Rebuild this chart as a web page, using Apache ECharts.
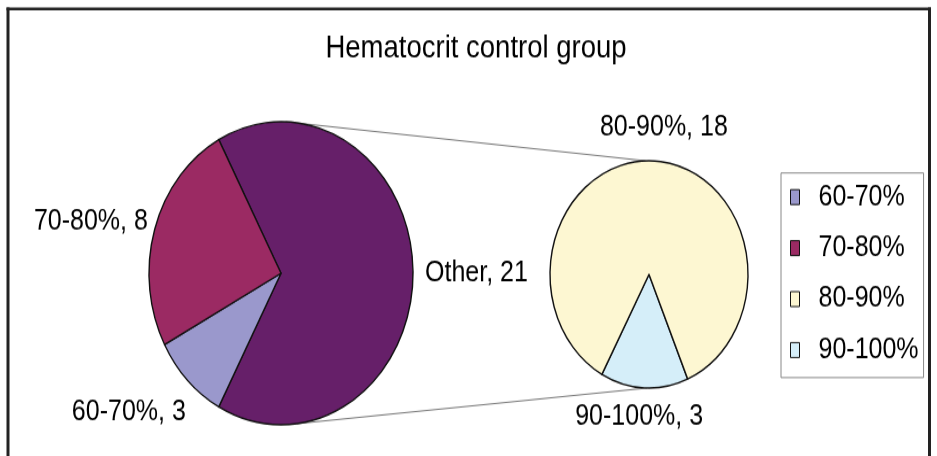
<!DOCTYPE html>
<html>
<head>
<meta charset="utf-8">
<script src="https://cdn.jsdelivr.net/npm/echarts@6/dist/echarts.min.js"></script>
<style>
  html, body { margin: 0; padding: 0; background: #fff; }
  #wrap { width: 937px; height: 456px; overflow: hidden; }
  /* the picture is stretched vertically, so draw flat and stretch the canvas */
  #main { width: 937px; height: 397px; transform: scaleY(1.148); transform-origin: 0 0; }
</style>
</head>
<body>
<div id="wrap"><div id="main"></div></div>
<script>
/* data */
var mainNames  = ['60-70%', '70-80%'];
var mainValues = [3, 8];
var otherName  = 'Other';
var splitNames  = ['80-90%', '90-100%'];
var splitValues = [18, 3];
var legendNames = ['60-70%', '70-80%', '80-90%', '90-100%'];

var colors = {
	'60-70%': '#9a98cc',
	'70-80%': '#9b2a63',
	'Other': '#661f69',
	'80-90%': '#fdf7d2',
	'90-100%': '#d5eef9'
};

/* geometry (flat coords, before the stretch) */
var leftC = [281, 238], leftR = 132;
var rightC = [649, 239], rightR = 99;
var fontFam = "'Liberation Sans', Arial, Helvetica, sans-serif";

var otherValue = splitValues.reduce(function(a, b){ return a + b; }, 0);
var mainTotal = otherValue + mainValues.reduce(function(a, b){ return a + b; }, 0);

/* label nudges, by name */
var nudge = {
	'Other':   { dx: 0, dy: 0 },
	'70-80%':  { dx: 5, dy: -5 },
	'60-70%':  { dx: 9, dy: 25 },
	'80-90%':  { dx: 2, dy: -25, align: 'center' },
	'90-100%': { dx: 3, dy: 21, align: 'center' }
};

function makeItem(name, value){
	return { name: name, value: value, itemStyle: { color: colors[name] } };
}

var leftData = [makeItem(otherName, otherValue)];
mainNames.forEach(function(n, i){ leftData.push(makeItem(n, mainValues[i])); });

// small slice sits at the bottom of the second pie
var rightData = [makeItem(splitNames[1], splitValues[1]), makeItem(splitNames[0], splitValues[0])];

// Other is centred on the right
var leftStart = otherValue / mainTotal * 180;
var rightStart = -67;

function layoutFn(p){
	var name = p.seriesIndex === 0 ? leftData[p.dataIndex].name : rightData[p.dataIndex].name;
	return nudge[name] || {};
}

var pieCommon = {
	type: 'pie',
	clockwise: true,
	avoidLabelOverlap: false,
	silent: true,
	itemStyle: { borderColor: '#111', borderWidth: 1.4 },
	label: {
		show: true,
		position: 'outside',
		formatter: '{b}, {c}',
		color: '#000',
		fontSize: 25,
		fontFamily: fontFam
	},
	labelLine: { show: false, length: 4, length2: 3 },
	emphasis: { disabled: true },
	labelLayout: layoutFn
};

function ptOn(c, r, deg){
	var a = deg * Math.PI / 180;
	return [c[0] + r * Math.cos(a), c[1] - r * Math.sin(a)];
}
var upA = ptOn(leftC, leftR, 88), upB = ptOn(rightC, rightR, 92);
var loA = ptOn(leftC, leftR, -83), loB = ptOn(rightC, rightR, -91);

var chart = echarts.init(document.getElementById('main'));
var option = {
	backgroundColor: '#fff',
	animation: false,
	title: {
		text: 'Hematocrit control group',
		left: 471,
		top: 23,
		textAlign: 'center',
		textStyle: { color: '#000', fontSize: 27.5, fontWeight: 'normal', fontFamily: fontFam }
	},
	legend: {
		orient: 'vertical',
		left: 781,
		top: 150.7,
		data: legendNames,
		selectedMode: false,
		icon: 'rect',
		itemWidth: 9,
		itemHeight: 13,
		itemGap: 16.4,
		padding: [7, 5, 10, 9],
		borderColor: '#888',
		borderWidth: 1,
		itemStyle: { borderColor: '#111', borderWidth: 1 },
		textStyle: { color: '#000', fontSize: 25, fontFamily: fontFam, lineHeight: 28, padding: [0, 0, 0, 14] }
	},
	graphic: [
		{ type: 'line', z: 1, shape: { x1: upA[0], y1: upA[1], x2: upB[0], y2: upB[1] }, style: { stroke: '#777', lineWidth: 1 } },
		{ type: 'line', z: 1, shape: { x1: loA[0], y1: loA[1], x2: loB[0], y2: loB[1] }, style: { stroke: '#777', lineWidth: 1 } },
		{ type: 'line', z: 1, shape: { x1: 8, y1: 6.5, x2: 8, y2: 400 }, style: { stroke: '#222', lineWidth: 3 } },
		{ type: 'line', z: 1, shape: { x1: 6.5, y1: 7.8, x2: 931, y2: 7.8 }, style: { stroke: '#222', lineWidth: 2.6 } },
		{ type: 'line', z: 1, shape: { x1: 929.5, y1: 6.5, x2: 929.5, y2: 400 }, style: { stroke: '#222', lineWidth: 3 } }
	],
	series: [
		Object.assign({}, pieCommon, {
			name: 'main',
			center: leftC,
			radius: leftR,
			startAngle: leftStart,
			data: leftData
		}),
		Object.assign({}, pieCommon, {
			name: 'split',
			center: rightC,
			radius: rightR,
			startAngle: rightStart,
			data: rightData
		})
	]
};
chart.setOption(option);
</script>
</body>
</html>
